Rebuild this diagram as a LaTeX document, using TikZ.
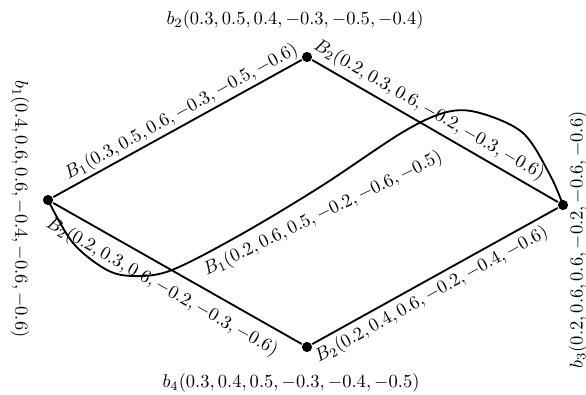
\documentclass[tikz,border=0pt]{standalone}
\begin{document}
\begin{tikzpicture}[x=0.54pt,y=-0.54pt,line width=1pt,
  dot/.style={circle,fill,inner sep=0pt,minimum size=5.5pt},
  elab/.style={sloped}]
\useasboundingbox (0,0) rectangle (586,394);
\node[dot] (b1) at (48,200) {};
\node[dot] (b2) at (307,57) {};
\node[dot] (b3) at (563,205) {};
\node[dot] (b4) at (307,347) {};
\draw (b1) -- node[elab,above,pos=0.54,inner sep=1.2pt] {$B_1(0.3, 0.5, 0.6, -0.3, -0.5, -0.6)$} (b2);
\draw (b2) -- node[elab,above,pos=0.445,inner sep=2.6pt] {$B_2(0.2, 0.3, 0.6, -0.2, -0.3, -0.6)$} (b3);
\draw (b1) -- node[elab,below,pos=0.476,inner sep=5pt] {$B_2(0.2, 0.3, 0.6, -0.2, -0.3, -0.6)$} (b4);
\draw (b4) -- node[elab,below,pos=0.457,inner sep=2.5pt] {$B_2(0.2, 0.4, 0.6, -0.2, -0.4, -0.6)$} (b3);
\draw plot[smooth,tension=0.55] coordinates {(b1.center) (73,243) (107,270) (135,276) (172,270) (240,235) (320,187) (403,132) (447,112) (480,113) (523,133) (550,175) (b3.center)};
\node[rotate=26] (cl) at (323,214) {$B_1(0.2, 0.6, 0.5, -0.2, -0.6, -0.5)$};
\node (l2) at (295,20) {$b_2(0.3, 0.5, 0.4, -0.3, -0.5, -0.4)$};
\node (l4) at (291,383) {$b_4(0.3, 0.4, 0.5, -0.3, -0.4, -0.5)$};
\node[rotate=-90] (l1) at (20,209) {$b_1(0.4, 0.6, 0.6, -0.4, -0.6, -0.6)$};
\node[rotate=90] (l3) at (578,240) {$b_3(0.2, 0.6, 0.6, -0.2, -0.6, -0.6)$};
\end{tikzpicture}
\end{document}
